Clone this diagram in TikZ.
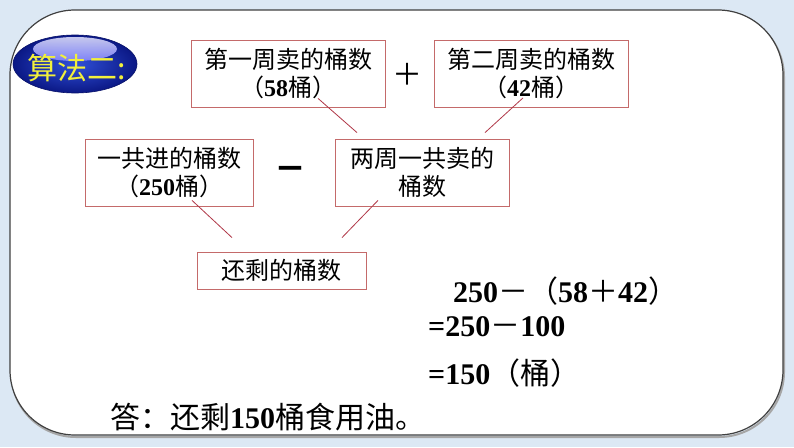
\documentclass[tikz,border=0pt]{standalone}
\usepackage{fontspec}
\setmainfont{Noto Sans CJK SC}
\newfontfamily\tnr{Liberation Serif}
\usetikzlibrary{shapes.geometric}
\definecolor{bgblue}{HTML}{DCE8F4}
\definecolor{boxred}{HTML}{C46A6A}
\definecolor{linkred}{HTML}{B03848}
\definecolor{navy}{HTML}{0B1885}
\definecolor{midblue}{HTML}{3050D8}
\definecolor{titleyellow}{HTML}{F2F03C}
\newcommand{\dg}[1]{{\tnr\bfseries #1}}

\begin{document}
\begin{tikzpicture}[x=1pt,y=-1pt,
  box/.style={rectangle,draw=boxred,line width=0.8pt,fill=white,align=center,
    font=\fontsize{24}{28}\selectfont,inner sep=0pt,minimum height=67pt},
  link/.style={every edge/.style={draw=linkred,line width=0.8pt}},
  eq/.style={anchor=west,font=\fontsize{30}{34}\selectfont,inner sep=0pt}]
  \useasboundingbox (0,0) rectangle (794,447);
  \fill[bgblue] (0,0) rectangle (794,447);
  \draw[black!35,line width=2pt,rounded corners=65pt] (11,12) rectangle (784,437);
  \draw[black!75,line width=1.2pt,fill=white,rounded corners=65pt] (10,10) rectangle (783,435);
  % title badge
  \node[ellipse,minimum width=124pt,minimum height=58pt,inner color=midblue,outer color=navy,
    draw=navy!80!black,line width=0.6pt] (title) at (75,64) {};
  \shade[top color=white!90!blue,bottom color=blue!45,opacity=0.85] (75,49) ellipse (42 and 12);
  \node[font=\fontsize{30}{30}\selectfont,text=titleyellow] (titletext) at (77,68) {算法二:};
  % boxes
  \node[box,minimum width=194pt] (week1) at (288,73.5) {第一周卖的桶数\\（\dg{58}桶）};
  \node[box,minimum width=194pt] (week2) at (531,74) {第二周卖的桶数\\（\dg{42}桶）};
  \node[box,minimum width=168pt] (total) at (169,172.5) {一共进的桶数\\（\dg{250}桶）};
  \node[box,minimum width=174pt] (both) at (422,172.5) {两周一共卖的\\桶数};
  \node[box,minimum width=169pt,minimum height=37pt] (left) at (281.5,270.5) {还剩的桶数};
  \node[font=\fontsize{30}{30}\selectfont] (plus) at (407,74) {＋};
  \node[font=\fontsize{32}{32}\selectfont\bfseries] (minus) at (290,173) {－};
  \path[link]
    ([shift={(30,-9)}]week1.south) edge ([shift={(-65,-6)}]both.north)
    ([shift={(-8,-10)}]week2.south) edge ([shift={(63,-6)}]both.north)
    ([shift={(23,-6)}]total.south) edge ([shift={(-49.5,-14)}]left.north)
    ([shift={(-44,-6)}]both.south) edge ([shift={(60.5,-14)}]left.north);
  % working
  \node[eq] (eq1) at (453,291) {\dg{250}－（\dg{58}＋\dg{42}）};
  \node[eq] (eq2) at (428,327) {\dg{=250}－\dg{100}};
  \node[eq] (eq3) at (428,373) {\dg{=150}（桶）};
  \node[eq] (answer) at (110,417) {答：还剩\dg{150}桶食用油。};
\end{tikzpicture}
\end{document}
